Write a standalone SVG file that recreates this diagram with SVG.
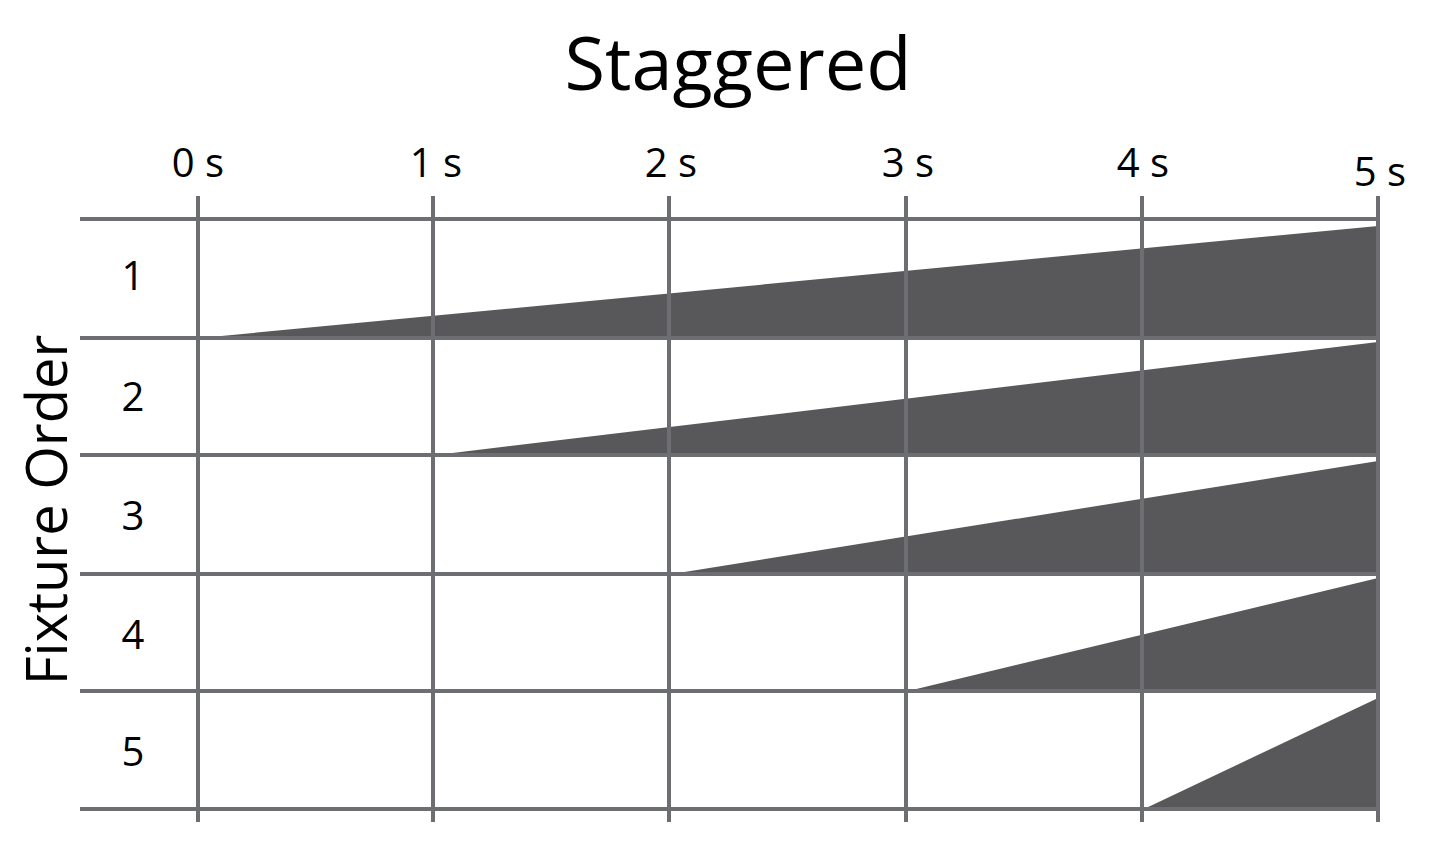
<svg xmlns="http://www.w3.org/2000/svg" width="1429" height="845" viewBox="0 0 1429 845">
<style>
.grid{stroke:#6d6e71;stroke-width:4;fill:none}
.fill{fill:#58585a}
text{font-family:"Open Sans","Noto Sans","Liberation Sans",sans-serif;fill:#000}
.t{font-size:40px;text-anchor:middle}
.r{font-size:40px;text-anchor:middle}
</style>
<rect width="1429" height="845" fill="#fff"/>
<text x="738" y="90" font-size="74" text-anchor="middle">Staggered</text>
<g id="time-labels">
<text class="t" x="198" y="177">0 s</text>
<text class="t" x="436" y="177">1 s</text>
<text class="t" x="671" y="177">2 s</text>
<text class="t" x="908" y="177">3 s</text>
<text class="t" x="1143" y="177">4 s</text>
<text class="t" x="1380" y="186">5 s</text>
</g>
<text transform="translate(67 510) rotate(-90)" font-size="56" text-anchor="middle">Fixture Order</text>
<g id="ramps">
<polygon class="fill" points="200,338 1378,226 1378,338"/>
<polygon class="fill" points="436,455 1378,342 1378,455"/>
<polygon class="fill" points="672,574 1378,461 1378,574"/>
<polygon class="fill" points="908,691 1378,578 1378,691"/>
<polygon class="fill" points="1144,809 1378,698 1378,809"/>
</g>
<g id="grid" class="grid">
<line x1="80" y1="219" x2="1378" y2="219"/>
<line x1="80" y1="338" x2="1378" y2="338"/>
<line x1="80" y1="455" x2="1378" y2="455"/>
<line x1="80" y1="574" x2="1378" y2="574"/>
<line x1="80" y1="691" x2="1378" y2="691"/>
<line x1="80" y1="809" x2="1378" y2="809"/>
<line x1="198" y1="196" x2="198" y2="822"/>
<line x1="433" y1="196" x2="433" y2="822"/>
<line x1="669" y1="196" x2="669" y2="822"/>
<line x1="906" y1="196" x2="906" y2="822"/>
<line x1="1142" y1="196" x2="1142" y2="822"/>
<line x1="1378" y1="196" x2="1378" y2="822"/>
</g>
<g id="row-labels">
<text class="r" x="133" y="290">1</text>
<text class="r" x="133" y="411">2</text>
<text class="r" x="133" y="530">3</text>
<text class="r" x="133" y="649">4</text>
<text class="r" x="133" y="766">5</text>
</g>
</svg>
